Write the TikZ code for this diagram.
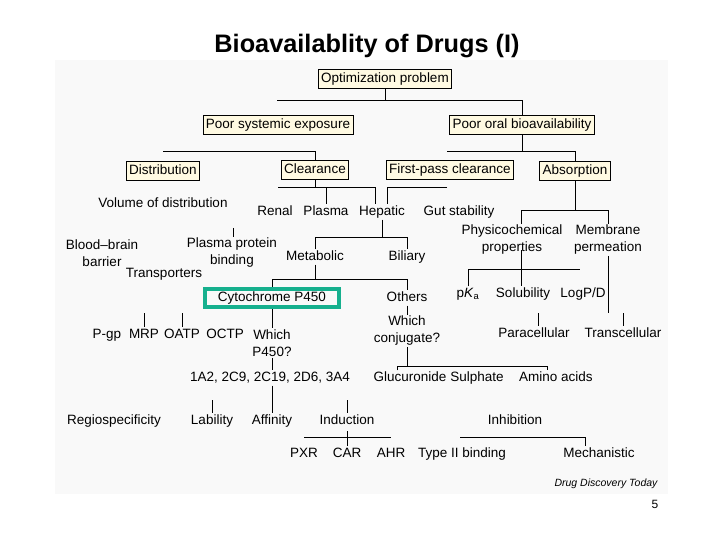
\documentclass[tikz,border=0pt]{standalone}
\usepackage{fontspec}
\setmainfont{Liberation Sans}
\usepackage{tikz}
\definecolor{cream}{RGB}{255,250,226}
\definecolor{cyteal}{RGB}{22,176,142}
\definecolor{figbg}{RGB}{249,249,249}
\tikzset{
    lab2/.style={inner sep=1pt, font=\fontsize{13.5}{17}\selectfont, align=center},
    lab/.style={lab2, text height=10pt, text depth=3pt},
    topic/.style={lab, draw=black, line width=0.8pt, fill=cream, inner sep=3pt, minimum height=19pt},
    tree/.style={line width=1pt}}

\begin{document}
\begin{tikzpicture}[x=1pt,y=-1pt]
        \useasboundingbox[fill=white] (0,0) rectangle (720,540);
        \fill[figbg] (55,60) rectangle (668,494);

        \node[font=\bfseries\fontsize{25.3}{29}\selectfont] (title) at (367,46) {Bioavailablity of Drugs (I)};

        % boxed topics
        \node[topic] (opt) at (385,79) {Optimization problem};
        \node[topic] (expo) at (278,125) {Poor systemic exposure};
        \node[topic] (oral) at (522,125) {Poor oral bioavailability};
        \node[topic] (distr) at (163,171) {Distribution};
        \node[topic] (clear) at (315,170) {Clearance};
        \node[topic] (fpass) at (450,170) {First-pass clearance};
        \node[topic] (absor) at (575,171) {Absorption};
        \node[lab, draw=cyteal, line width=4pt, minimum width=134pt, minimum height=18pt] (cyp) at (272,298) {Cytochrome P450};

        % plain labels
        \node[lab] (vold) at (163,204) {Volume of distribution};
        \node[lab] (renal) at (275,212) {Renal};
        \node[lab] (plasma) at (326,212) {Plasma};
        \node[lab] (hepat) at (382,212) {Hepatic};
        \node[lab] (gut) at (459,212) {Gut stability};
        \node[lab2] (bbb) at (102,253) {Blood--brain\\barrier};
        \node[lab2] (ppb) at (232,253) {Plasma protein\\binding};
        \node[lab2] (physc) at (512,240) {Physicochemical\\properties};
        \node[lab2] (membr) at (608,240) {Membrane\\permeation};
        \node[lab] (metab) at (315,257) {Metabolic};
        \node[lab] (bili) at (407,257) {Biliary};
        \node[lab] (transp) at (164,274) {Transporters};
        \node[lab] (others) at (407,298) {Others};
        \node[lab] (pka) at (468,294) {p\textit{K}\textsubscript{a}};
        \node[lab] (solub) at (523,294) {Solubility};
        \node[lab] (logp) at (583,294) {LogP/D};
        \node[lab] (pgp) at (107,335) {P-gp};
        \node[lab] (mrp) at (144,335) {MRP};
        \node[lab] (oatp) at (182,335) {OATP};
        \node[lab] (octp) at (225,335) {OCTP};
        \node[lab2] (whp) at (272,343) {Which\\P450?};
        \node[lab2] (whc) at (407,331) {Which\\conjugate?};
        \node[lab] (parac) at (534,334) {Paracellular};
        \node[lab] (transc) at (623,334) {Transcellular};
        \node[lab] (cyps) at (270,378) {1A2, 2C9, 2C19, 2D6, 3A4};
        \node[lab] (gluc) at (410,378) {Glucuronide};
        \node[lab] (sulph) at (477,378) {Sulphate};
        \node[lab] (amino) at (556,378) {Amino acids};
        \node[lab] (regio) at (114,421) {Regiospecificity};
        \node[lab] (labil) at (212,421) {Lability};
        \node[lab] (affin) at (272,421) {Affinity};
        \node[lab] (induc) at (347,421) {Induction};
        \node[lab] (inhib) at (515,421) {Inhibition};
        \node[lab] (pxr) at (304,454) {PXR};
        \node[lab] (car) at (347,454) {CAR};
        \node[lab] (ahr) at (391,454) {AHR};
        \node[lab] (type2) at (462,454) {Type II binding};
        \node[lab] (mech) at (599,454) {Mechanistic};
        \node[font=\itshape\fontsize{10.5}{12}\selectfont, anchor=east] (src) at (661,484) {Drug Discovery Today};
        \node[font=\fontsize{12}{14}\selectfont] (page) at (655,504) {5};

        % bar ends and free tick ends
        \coordinate (b1l) at (277,101);
        \coordinate (b1r) at (522,101);
        \coordinate (b2l) at (447,152);
        \coordinate (b2r) at (575,152);
        \coordinate (b3l) at (163,152);
        \coordinate (b3r) at (315,152);
        \coordinate (b4l) at (278,188);
        \coordinate (b4r) at (375,188);
        \coordinate (b5l) at (387,188);
        \coordinate (b5r) at (447,188);
        \coordinate (b6l) at (315,237);
        \coordinate (b6r) at (407,237);
        \coordinate (b7l) at (272,279);
        \coordinate (b7r) at (407,279);
        \coordinate (b8l) at (397,366);
        \coordinate (b8r) at (547,366);
        \coordinate (b9l) at (468,269);
        \coordinate (b9r) at (580,269);
        \coordinate (b10l) at (521,211);
        \coordinate (b10r) at (608,211);
        \coordinate (b11l) at (304,437);
        \coordinate (b11r) at (391,437);
        \coordinate (b12l) at (460,437);
        \coordinate (b12r) at (585,437);
        \coordinate (t1) at (233,228);
        \coordinate (t2) at (144,313);
        \coordinate (t3) at (182,313);
        \coordinate (t4) at (608,313);
        \coordinate (t5) at (538,313);
        \coordinate (t6) at (623,313);
        \coordinate (t7) at (212,400);
        \coordinate (t8) at (347,400);
        \coordinate (t9) at (347,431);
        \coordinate (pv) at (521,250);

        % connectors
        \draw[tree] (opt) -- (opt.south |- b1l);
        \draw[tree] (b1l) -- (b1r) -- (oral);
        \draw[tree] (oral) -- (oral.south |- b2l);
        \draw[tree] (b2l) -- (b2r) -- (absor);
        \draw[tree] (b3l) -- (b3r) -- (clear);
        \draw[tree] (clear) -- (clear.south |- b4l);
        \draw[tree] (b4l) -- (b4r) -- (b4r |- hepat.north);
        \draw[tree] (plasma.north |- b4l) -- (plasma);
        \draw[tree] (b5r) -- (b5l) -- (b5l |- hepat.north);
        \draw[tree] (hepat) -- (hepat.south |- b6l);
        \draw[tree] (metab) -- (b6l) -- (b6r) -- (bili);
        \draw[tree] (metab) -- (metab.south |- b7l);
        \draw[tree] (cyp) -- (b7l) -- (b7r) -- (others);
        \draw[tree] (cyp) -- (whp);
        \draw[tree] (others) -- (whc);
        \draw[tree] (whp) -- (whp |- cyps.north);
        \draw[tree] (affin |- cyps.south) -- (affin);
        \draw[tree] (whc) -- (whc.south |- b8l);
        \draw[tree] (b8l |- gluc.north) -- (b8l) -- (b8r) -- (b8r |- amino.north);
        \draw[tree] (absor) -- (absor.south |- b10l);
        \draw[tree] (b10l |- physc.north) -- (b10l) -- (b10r) -- (membr);
        \draw[tree] (pv) -- (pv |- solub.north);
        \draw[tree] (pka) -- (b9l) -- (b9r);
        \draw[tree] (membr) -- (t4);
        \draw[tree] (t1) -- (t1 |- ppb.north);
        \draw[tree] (t2) -- (mrp);
        \draw[tree] (t3) -- (oatp);
        \draw[tree] (t5) -- (t5 |- parac.north);
        \draw[tree] (t6) -- (transc);
        \draw[tree] (t7) -- (labil);
        \draw[tree] (t8) -- (induc);
        \draw[tree] (b11l) -- (b11r);
        \draw[tree] (t9) -- (t9 |- car.north);
        \draw[tree] (b12l) -- (b12r) -- (b12r |- mech.north);

\end{tikzpicture}
\end{document}
